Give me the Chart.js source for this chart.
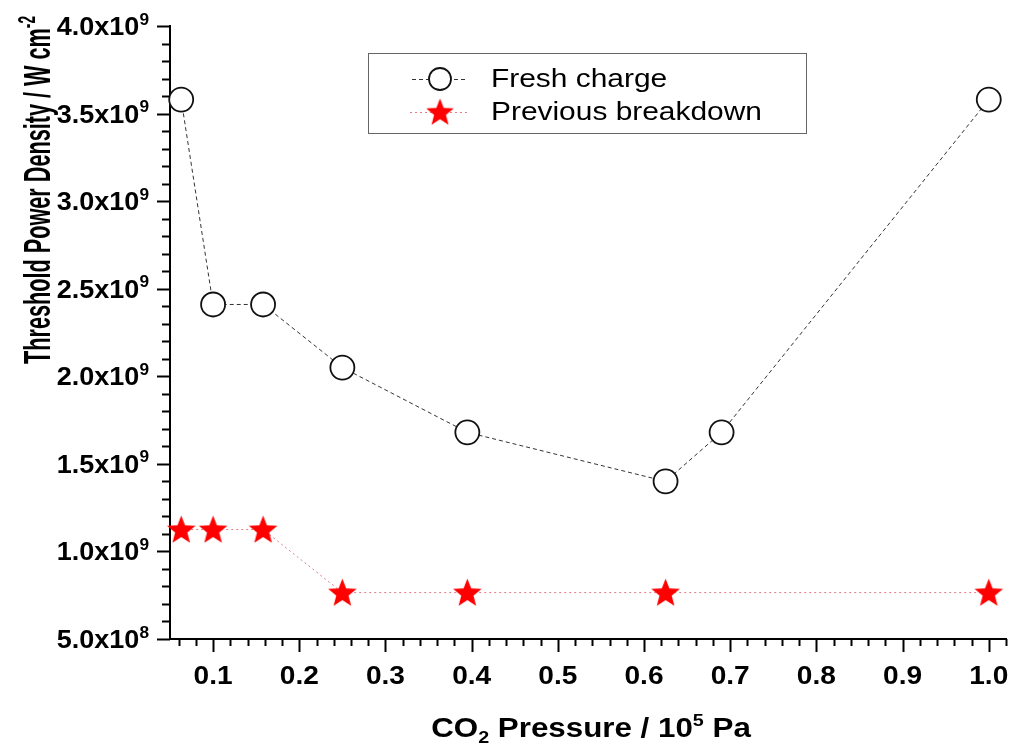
<!DOCTYPE html>
<html>
<head>
<meta charset="utf-8">
<title>Threshold power density vs CO2 pressure</title>
<script src="https://cdn.jsdelivr.net/npm/chart.js@4"></script>
<style>
  html, body { margin: 0; padding: 0; background: #fff; overflow: hidden; }
  #wrap { width: 1011px; height: 751px; position: relative; }
  canvas { display: block; }
</style>
</head>
<body>
<div id="wrap"><canvas id="chart"></canvas></div>
<script>
// Data
const freshPressure = [0.063, 0.1, 0.158, 0.25, 0.395, 0.625, 0.69, 1.0];
const freshCharge = [3.58e9, 2.41e9, 2.41e9, 2.05e9, 1.68e9, 1.40e9, 1.68e9, 3.58e9];
const breakdownPressure = [0.063, 0.1, 0.158, 0.25, 0.395, 0.625, 1.0];
const previousBreakdown = [1.125e9, 1.125e9, 1.125e9, 0.765e9, 0.765e9, 0.765e9, 0.765e9];

const xTickValues = [0.1, 0.2, 0.3, 0.4, 0.5, 0.6, 0.7, 0.8, 0.9, 1.0];
const xTickLabels = ['0.1', '0.2', '0.3', '0.4', '0.5', '0.6', '0.7', '0.8', '0.9', '1.0'];
const yTickValues = [5e8, 1e9, 1.5e9, 2e9, 2.5e9, 3e9, 3.5e9, 4e9];
const yTickMantissa = ['5.0', '1.0', '1.5', '2.0', '2.5', '3.0', '3.5', '4.0'];
const yTickExponent = ['8', '9', '9', '9', '9', '9', '9', '9'];

const legendLabels = ['Fresh charge', 'Previous breakdown'];

const FONT = '"Liberation Sans", Arial, Helvetica, sans-serif';
const RED = '#ff0000';

// filled five-point star used as point style
function makeStar(size) {
    const c = document.createElement('canvas');
    c.width = size; c.height = size;
    const g = c.getContext('2d');
    const cx = size / 2, cy = size / 2 + 1, R = size / 2 - 0.5, r = R * 0.43;
    g.beginPath();
    for (let i = 0; i < 10; i++) {
        const rad = i % 2 === 0 ? R : r;
        const a = -Math.PI / 2 + i * Math.PI / 5;
        g.lineTo(cx + rad * Math.cos(a), cy + rad * Math.sin(a));
    }
    g.closePath();
    g.fillStyle = RED;
    g.fill();
    return c;
}
const starImg = makeStar(31);

// draw text made of runs, some raised or lowered
function richWidth(ctx, parts, size) {
    let w = 0;
    parts.forEach(p => {
        ctx.font = `bold ${p.s ? Math.round(size * 0.62) : size}px ${FONT}`;
        w += ctx.measureText(p.t).width;
    });
    return w;
}
function drawRich(ctx, parts, x, y, size) {
    let cx = x;
    parts.forEach(p => {
        const fs = p.s ? Math.round(size * 0.62) : size;
        ctx.font = `bold ${fs}px ${FONT}`;
        const dy = p.s === 1 ? -size * 0.42 : (p.s === -1 ? size * 0.22 : 0);
        ctx.fillText(p.t, cx, y + dy);
        cx += ctx.measureText(p.t).width;
    });
}

const axesPlugin = {
    id: 'axesDecor',
    afterDraw(chart) {
        const ctx = chart.ctx;
        const xs = chart.scales.x, ys = chart.scales.y;
        const area = chart.chartArea;
        ctx.save();
        ctx.strokeStyle = '#000';
        ctx.fillStyle = '#000';
        ctx.lineWidth = 2;

        // x ticks (major every 0.1, minor every 0.02)
        for (let i = 3; i <= 51; i++) {
            const px = Math.round(xs.getPixelForValue(i * 0.02)) + 0.5;
            const len = i % 5 === 0 ? 13 : 7;
            ctx.beginPath();
            ctx.moveTo(px, area.bottom);
            ctx.lineTo(px, area.bottom + len);
            ctx.stroke();
        }
        // y ticks (major every 5e8, minor every 1e8)
        for (let i = 5; i <= 40; i++) {
            const py = Math.round(ys.getPixelForValue(i * 1e8)) + 0.5;
            const len = i % 5 === 0 ? 13 : 8;
            ctx.beginPath();
            ctx.moveTo(area.left, py);
            ctx.lineTo(area.left - len, py);
            ctx.stroke();
        }

        // x tick labels
        ctx.textAlign = 'center';
        ctx.textBaseline = 'alphabetic';
        xTickValues.forEach((v, i) => {
            const px = xs.getPixelForValue(v);
            ctx.save();
            ctx.translate(px, 684);
            ctx.scale(1.08, 1);
            ctx.font = `bold 26px ${FONT}`;
            ctx.fillText(xTickLabels[i], 0, 0);
            ctx.restore();
        });

        // y tick labels with exponent
        ctx.textAlign = 'left';
        yTickValues.forEach((v, i) => {
            const py = ys.getPixelForValue(v);
            const parts = [{ t: yTickMantissa[i] + 'x10', s: 0 }, { t: yTickExponent[i], s: 1 }];
            ctx.save();
            const w = richWidth(ctx, parts, 25) * 1.08;
            ctx.translate(149 - w, py + 9);
            ctx.scale(1.08, 1);
            drawRich(ctx, parts, 0, 0, 25);
            ctx.restore();
        });

        // x axis title
        const xt = [{ t: 'CO', s: 0 }, { t: '2', s: -1 }, { t: ' Pressure / 10', s: 0 }, { t: '5', s: 1 }, { t: ' Pa', s: 0 }];
        ctx.save();
        const xw = richWidth(ctx, xt, 27) * 1.16;
        ctx.translate(591 - xw / 2, 737);
        ctx.scale(1.16, 1);
        drawRich(ctx, xt, 0, 0, 27);
        ctx.restore();

        // y axis title (rotated)
        const yt = [{ t: 'Threshold Power Density / W cm', s: 0 }, { t: '-2', s: 1 }];
        ctx.save();
        ctx.translate(50, 364);
        ctx.rotate(-Math.PI / 2);
        const yw = richWidth(ctx, yt, 27);
        const along = 348 / yw;
        ctx.scale(along, 1.36);
        drawRich(ctx, yt, 0, 0, 27);
        ctx.restore();

        // legend box
        ctx.lineWidth = 1;
        ctx.strokeStyle = '#666';
        ctx.strokeRect(368.5, 53.5, 438, 80);
        const rows = [79, 112];
        // row 1: dashed line + open circle
        ctx.strokeStyle = '#333';
        ctx.setLineDash([4, 3]);
        ctx.beginPath();
        ctx.moveTo(412, rows[0] + 0.5); ctx.lineTo(468, rows[0] + 0.5);
        ctx.stroke();
        ctx.setLineDash([]);
        ctx.beginPath();
        ctx.arc(440, rows[0], 11, 0, Math.PI * 2);
        ctx.fillStyle = '#fff';
        ctx.fill();
        ctx.lineWidth = 1.8;
        ctx.strokeStyle = '#111';
        ctx.stroke();
        // row 2: dotted red line + star
        ctx.lineWidth = 1;
        ctx.strokeStyle = '#e37b86';
        ctx.setLineDash([2, 3]);
        ctx.beginPath();
        ctx.moveTo(410, rows[1] + 0.5); ctx.lineTo(470, rows[1] + 0.5);
        ctx.stroke();
        ctx.setLineDash([]);
        ctx.drawImage(starImg, 440 - 15, rows[1] - 15, 30, 30);
        // legend text
        ctx.fillStyle = '#000';
        ctx.textBaseline = 'middle';
        ctx.textAlign = 'left';
        legendLabels.forEach((lab, i) => {
            ctx.save();
            ctx.translate(491, rows[i] + 1);
            ctx.scale(1.15, 1);
            ctx.font = `26px ${FONT}`;
            ctx.fillText(lab, 0, 0);
            ctx.restore();
        });
        ctx.restore();
    }
};

const ctx = document.getElementById('chart').getContext('2d');
new Chart(ctx, {
    type: 'scatter',
    data: {
        datasets: [
            {
                label: legendLabels[0],
                data: freshPressure.map((x, i) => ({ x: x, y: freshCharge[i] })),
                showLine: true,
                borderColor: '#333',
                borderWidth: 1,
                borderDash: [4, 3],
                pointRadius: 12,
                pointHoverRadius: 12,
                pointBackgroundColor: '#fff',
                pointBorderColor: '#111',
                pointBorderWidth: 1.8,
                clip: false
            },
            {
                label: legendLabels[1],
                data: breakdownPressure.map((x, i) => ({ x: x, y: previousBreakdown[i] })),
                showLine: true,
                borderColor: '#e37b86',
                borderWidth: 1,
                borderDash: [2, 3],
                pointStyle: starImg,
                pointRadius: 15,
                pointHoverRadius: 15,
                clip: false
            }
        ]
    },
    options: {
        responsive: true,
        maintainAspectRatio: false,
        animation: false,
        events: [],
        layout: { autoPadding: false, padding: { top: 26, right: 5, left: 0, bottom: 0 } },
        plugins: {
            legend: { display: false },
            tooltip: { enabled: false }
        },
        scales: {
            x: {
                type: 'linear',
                min: 0.05,
                max: 1.02,
                grid: { display: false },
                ticks: { display: false },
                border: { display: true, color: '#000', width: 2 },
                afterFit(s) { s.height = 112; }
            },
            y: {
                type: 'linear',
                min: 5e8,
                max: 4e9,
                grid: { display: false },
                ticks: { display: false },
                border: { display: true, color: '#000', width: 2 },
                afterFit(s) { s.width = 170; }
            }
        }
    },
    plugins: [axesPlugin]
});
</script>
</body>
</html>
